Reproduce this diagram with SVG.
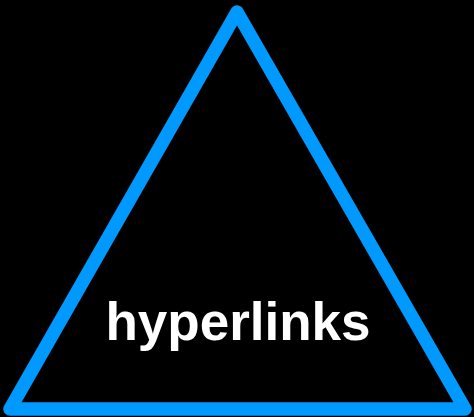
<svg xmlns="http://www.w3.org/2000/svg" width="474" height="417" viewBox="0 0 474 417">
<style>
.tri{fill:none;stroke:#0099ff;stroke-width:13.5;stroke-linejoin:round}
.lbl{font-family:"Liberation Sans",Arial,sans-serif;font-weight:bold;font-size:53px;fill:#ffffff;text-anchor:middle}
</style>
<rect width="474" height="417" fill="#000000"/>
<g id="triangle">
<polygon class="tri" points="237,12 465,409 10,409"/>
<text class="lbl" x="238" y="340">hyperlinks</text>
</g>
</svg>
